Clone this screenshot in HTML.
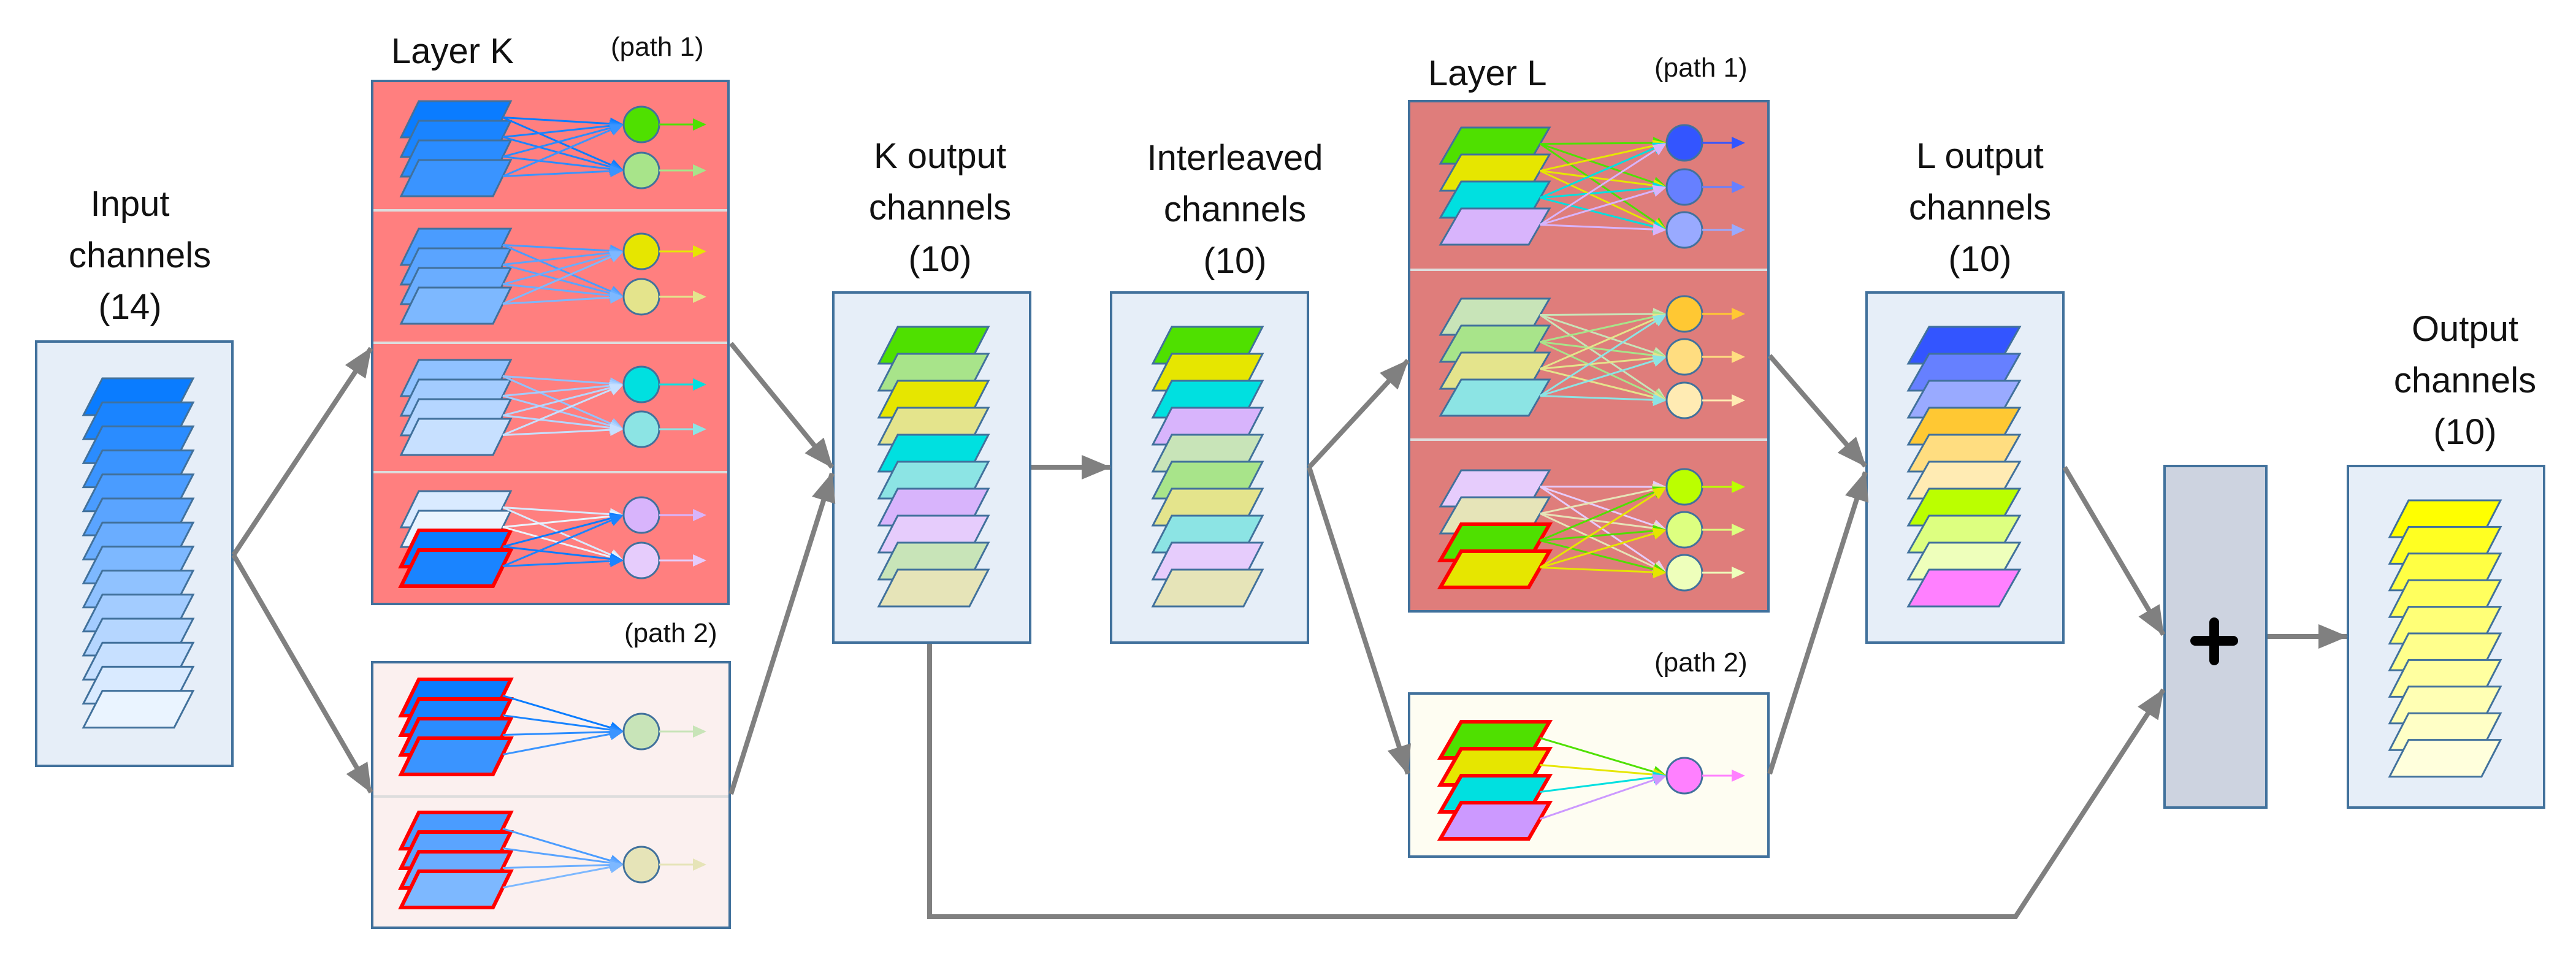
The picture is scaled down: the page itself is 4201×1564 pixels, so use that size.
<!DOCTYPE html>
<html><head><meta charset="utf-8">
<style>
html,body{margin:0;padding:0;background:#fff;}
body{width:4201px;height:1564px;position:relative;overflow:hidden;}
svg{position:absolute;left:0;top:0;}
.t{position:absolute;font-family:"Liberation Sans",sans-serif;color:#111;text-align:center;white-space:nowrap;}
.big{font-size:58px;line-height:84px;}
.sm{font-size:44px;}
</style></head><body>
<svg id="s" width="4201" height="1564" viewBox="0 0 4201 1564" xmlns="http://www.w3.org/2000/svg">
<defs>
<marker id="ga" markerUnits="userSpaceOnUse" markerWidth="50" markerHeight="40" refX="46" refY="20" orient="auto"><path d="M0,0 L48,20 L0,40 Z" fill="#808080"/></marker>
</defs>
<rect x="59" y="557" width="320" height="692" fill="#E6EEF8" stroke="#41719C" stroke-width="4"/>
<rect x="607" y="132" width="581" height="853" fill="#FF7F7F" stroke="#41719C" stroke-width="4"/>
<line x1="609" y1="343" x2="1186" y2="343" stroke="#dddddd" stroke-width="4"/>
<line x1="609" y1="559" x2="1186" y2="559" stroke="#dddddd" stroke-width="4"/>
<line x1="609" y1="770" x2="1186" y2="770" stroke="#dddddd" stroke-width="4"/>
<rect x="607" y="1080" width="583" height="433" fill="#FBF0EF" stroke="#41719C" stroke-width="4"/>
<line x1="609" y1="1299" x2="1188" y2="1299" stroke="#dddddd" stroke-width="4"/>
<rect x="1359" y="477" width="321" height="571" fill="#E6EEF8" stroke="#41719C" stroke-width="4"/>
<rect x="1812" y="477" width="321" height="571" fill="#E6EEF8" stroke="#41719C" stroke-width="4"/>
<rect x="2298" y="165" width="586" height="832" fill="#DF7D7B" stroke="#41719C" stroke-width="4"/>
<line x1="2300" y1="440" x2="2882" y2="440" stroke="#dddddd" stroke-width="4"/>
<line x1="2300" y1="717" x2="2882" y2="717" stroke="#dddddd" stroke-width="4"/>
<rect x="2298" y="1131" width="586" height="266" fill="#FEFDF2" stroke="#41719C" stroke-width="4"/>
<rect x="3044" y="477" width="321" height="571" fill="#E6EEF8" stroke="#41719C" stroke-width="4"/>
<rect x="3530" y="760" width="166" height="557" fill="#CDD3E0" stroke="#41719C" stroke-width="4"/>
<rect x="3829" y="760" width="320" height="557" fill="#E6EEF8" stroke="#41719C" stroke-width="4"/>
<line x1="3580" y1="1045" x2="3642" y2="1045" stroke="#000" stroke-width="16" stroke-linecap="round"/>
<line x1="3611" y1="1015" x2="3611" y2="1077" stroke="#000" stroke-width="16" stroke-linecap="round"/>
<g stroke="#808080" stroke-width="8" fill="none">
<polyline points="381,905 605,568" marker-end="url(#ga)"/>
<polyline points="381,905 605,1292" marker-end="url(#ga)"/>
<polyline points="1192,560 1357,762" marker-end="url(#ga)"/>
<polyline points="1192,1295 1357,772" marker-end="url(#ga)"/>
<polyline points="1682,762 1810,762" marker-end="url(#ga)"/>
<polyline points="2135,762 2296,588" marker-end="url(#ga)"/>
<polyline points="2135,762 2296,1262" marker-end="url(#ga)"/>
<polyline points="2886,580 3042,760" marker-end="url(#ga)"/>
<polyline points="2886,1262 3042,770" marker-end="url(#ga)"/>
<polyline points="3367,762 3528,1035" marker-end="url(#ga)"/>
<polyline points="3698,1038 3827,1038" marker-end="url(#ga)"/>
<polyline points="1516,1050 1516,1495 3287,1495 3528,1125" marker-end="url(#ga)"/>
</g>
<g id="g"></g>
</svg>

<div class="t big" style="left:112px;top:291px;width:200px;">Input<br>channels<br>(14)</div>
<div class="t big" style="left:638px;top:42px;text-align:left;">Layer K</div>
<div class="t sm" style="left:996px;top:52px;text-align:left;">(path 1)</div>
<div class="t sm" style="left:1018px;top:1008px;text-align:left;">(path 2)</div>
<div class="t big" style="left:1383px;top:213px;width:300px;">K output<br>channels<br>(10)</div>
<div class="t big" style="left:1864px;top:216px;width:300px;">Interleaved<br>channels<br>(10)</div>
<div class="t big" style="left:2329px;top:78px;text-align:left;">Layer L</div>
<div class="t sm" style="left:2698px;top:86px;text-align:left;">(path 1)</div>
<div class="t sm" style="left:2698px;top:1056px;text-align:left;">(path 2)</div>
<div class="t big" style="left:3079px;top:213px;width:300px;">L output<br>channels<br>(10)</div>
<div class="t big" style="left:3870px;top:495px;width:300px;">Output<br>channels<br>(10)</div>

<script>
var g=document.getElementById('g'),h='';
function para(x0,y,w,hh,sk,fill,red){
  h+='<polygon points="'+(x0+sk)+','+y+' '+(x0+sk+w)+','+y+' '+(x0+w)+','+(y+hh)+' '+x0+','+(y+hh)+'" fill="'+fill+'" stroke="'+(red?'#ff0000':'#41719C')+'" stroke-width="'+(red?6:3)+'"/>';
}
function stack(x0,tops,w,hh,sk,cols,reds){
  for(var i=0;i<cols.length;i++)para(x0,tops[i],w,hh,sk,cols[i],reds&&reds[i]);
}
function arr(x1,y1,x2,y2,c,sw){
  var a=Math.atan2(y2-y1,x2-x1),L=22,W=10;
  var bx=x2-L*Math.cos(a),by=y2-L*Math.sin(a);
  h+='<line x1="'+x1+'" y1="'+y1+'" x2="'+bx+'" y2="'+by+'" stroke="'+c+'" stroke-width="'+sw+'"/>';
  h+='<polygon points="'+x2+','+y2+' '+(bx-W*Math.sin(a))+','+(by+W*Math.cos(a))+' '+(bx+W*Math.sin(a))+','+(by-W*Math.cos(a))+'" fill="'+c+'"/>';
}
function section(x0,top,sp,w,hh,sk,cols,reds,cx,cys,ccols,outEnd){
  var tops=[];for(var i=0;i<cols.length;i++)tops.push(top+i*sp);
  stack(x0,tops,w,hh,sk,cols,reds);
  for(var i=0;i<cols.length;i++){
    var sx=x0+w+sk*0.55,sy=tops[i]+hh*0.45;
    for(var j=0;j<cys.length;j++)arr(sx,sy,cx-29,cys[j],cols[i],3);
  }
  for(var j=0;j<cys.length;j++){
    h+='<circle cx="'+cx+'" cy="'+cys[j]+'" r="29" fill="'+ccols[j]+'" stroke="#41719C" stroke-width="3"/>';
    arr(cx+29,cys[j],outEnd,cys[j],ccols[j],3);
  }
}
var inp=['#0a7cff','#1a84ff','#2a8cff','#3a94ff','#4a9cff','#5aa4ff','#6aadff','#7db8ff','#90c2ff','#a3ccff','#b5d6ff','#c7e0ff','#d9eaff','#eaf4ff'];
var t=[];for(var i=0;i<14;i++)t.push(617+i*39.2);
stack(136,t,148,60,31,inp);
section(654,165,32,150,59,29,inp.slice(0,4),null,1046,[203,278],['#4fe000','#a8e48a'],1152);
section(654,373,32,150,59,29,inp.slice(4,8),null,1046,[410,484],['#e6e600','#e4e48c'],1152);
section(654,587,32,150,59,29,inp.slice(8,12),null,1046,[627,700],['#00e0e0','#8ce4e4'],1152);
section(654,801,32,150,59,29,[inp[12],inp[13],inp[0],inp[1]],[0,0,1,1],1046,[840,914],['#d8b4fc','#e6ccfc'],1152);
section(654,1108,32,150,59,29,inp.slice(0,4),[1,1,1,1],1046,[1193],['#c8e4b8'],1152);
section(654,1325,32,150,59,29,inp.slice(4,8),[1,1,1,1],1046,[1410],['#e6e4b8'],1152);
var ko=['#4fe000','#a8e48a','#e6e600','#e4e48c','#00e0e0','#8ce4e4','#d8b4fc','#e6ccfc','#c8e4b8','#e6e4b8'];
var il=['#4fe000','#e6e600','#00e0e0','#d8b4fc','#c8e4b8','#a8e48a','#e4e48c','#8ce4e4','#e6ccfc','#e6e4b8'];
t=[];for(var i=0;i<10;i++)t.push(533+i*44);
stack(1433,t,148,60,31,ko);
stack(1880,t,148,60,31,il);
section(2349,208,44,144,59,34,['#4fe000','#e6e600','#00e0e0','#d8b4fc'],null,2747,[233,305,375],['#3355ff','#6680ff','#99aaff'],2846);
section(2349,487,44,144,59,34,['#c8e4b8','#a8e48a','#e4e48c','#8ce4e4'],null,2747,[512,582,653],['#ffc833','#ffdd80','#ffebb3'],2846);
section(2349,767,44,144,59,34,['#e6ccfc','#e6e4b8','#4fe000','#e6e600'],[0,0,1,1],2747,[794,864,934],['#bbff00','#ddff80','#eeffbb'],2846);
section(2349,1177,44,144,59,34,['#4fe000','#e6e600','#00e0e0','#cc99ff'],[1,1,1,1],2747,[1265],['#ff80ff'],2846);
var lo=['#3355ff','#6680ff','#99aaff','#ffc833','#ffdd80','#ffebb3','#bbff00','#ddff80','#eeffbb','#ff80ff'];
stack(3112,t,148,60,34,lo);
var oc=['#ffff00','#ffff22','#ffff44','#ffff5e','#ffff77','#ffff8c','#ffffa0','#ffffb4','#ffffc6','#ffffdc'];
var t2=[];for(var i=0;i<10;i++)t2.push(816+i*43.4);
stack(3897,t2,150,60,31,oc);
g.innerHTML=h;
</script>
</body></html>
